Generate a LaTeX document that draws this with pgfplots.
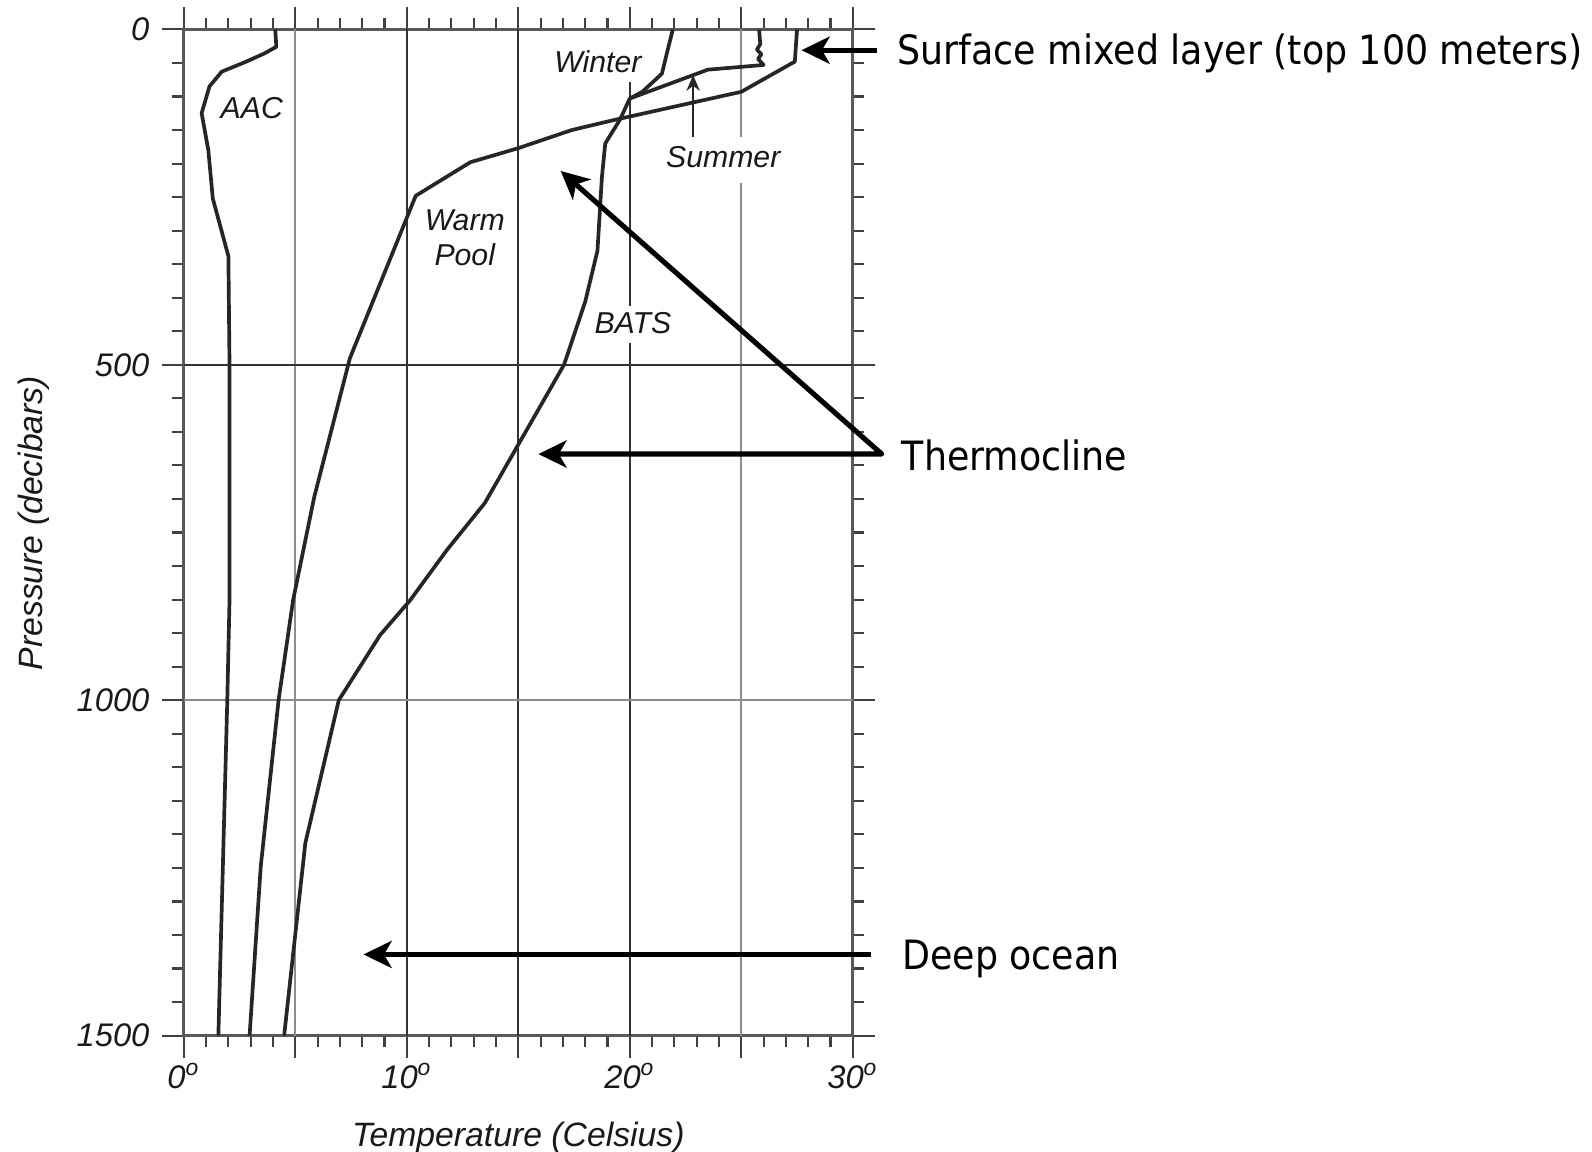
\documentclass[border=0pt]{standalone}
\usepackage{pgfplots}
\pgfplotsset{compat=1.18}
\usepackage{fontspec}
\setmainfont{Liberation Sans}
\newfontfamily\annotfont[FakeStretch=0.9]{DejaVu Sans}
\usetikzlibrary{arrows.meta}

\begin{document}
\begin{tikzpicture}
\begin{axis}[
  at={(1.838cm,-10.356cm)}, anchor=south west,
  scale only axis, width=6.69cm, height=10.062cm,
  xmin=0, xmax=30, ymin=0, ymax=1500, y dir=reverse,
  clip=false,
  axis line style={draw=black!65, line width=0.9pt},
  tick align=outside,
  major tick length=0.22cm, minor tick length=0.115cm,
  every tick/.style={draw=black!75, line width=0.6pt},
  xtick={0,5,...,30},
  xticklabels={0\textsuperscript{o},,10\textsuperscript{o},,20\textsuperscript{o},,30\textsuperscript{o}},
  minor x tick num=4,
  ytick={0,500,1000,1500}, yticklabels={0,500,1000,1500},
  minor y tick num=9,
  ticklabel style={font=\fontsize{9.3}{11}\selectfont\itshape, text=black!90},
  xticklabel style={yshift=2pt},
]
% grid lines
\draw[black!45, line width=0.6pt] (axis cs:5,0) -- (axis cs:5,1500);
\draw[black!80, line width=0.6pt] (axis cs:10,0) -- (axis cs:10,1500);
\draw[black!80, line width=0.6pt] (axis cs:15,0) -- (axis cs:15,1500);
\draw[black!80, line width=0.6pt] (axis cs:20,78) -- (axis cs:20,413);
\draw[black!80, line width=0.6pt] (axis cs:20,468) -- (axis cs:20,1500);
\draw[black!45, line width=0.6pt] (axis cs:25,0) -- (axis cs:25,160);
\draw[black!45, line width=0.6pt] (axis cs:25,229) -- (axis cs:25,1500);
\draw[black!80, line width=0.6pt] (axis cs:0,500) -- (axis cs:30,500);
\draw[black!45, line width=0.6pt] (axis cs:0,1000) -- (axis cs:30,1000);

% AAC
\addplot[black!85, line width=1.05pt, line join=round] coordinates {
(4.1,0) (4.15,26) (3.6,36) (2.8,48) (1.7,63) (1.15,85) (0.8,125) (1.1,180)
(1.3,252) (2.0,338) (2.05,500) (2.05,851) (1.95,1000) (1.55,1500)};
% Warm Pool
\addplot[black!85, line width=1.05pt, line join=round] coordinates {
(27.5,0) (27.4,48) (25.0,93) (19.3,135) (17.4,150) (15.0,177) (12.85,198)
(10.4,248) (7.45,490) (5.85,697) (4.9,851) (4.25,1000) (3.45,1248) (2.95,1500)};
% BATS winter
\addplot[black!85, line width=1.05pt, line join=round] coordinates {
(21.93,0) (21.66,36) (21.44,66) (21.15,75) (20.56,93) (20.0,103) (19.55,135)
(18.9,170) (18.75,220) (18.55,330) (18.0,406) (17.05,500) (13.5,706)
(11.8,776) (10.15,851) (8.8,903) (6.95,1000) (5.45,1213) (4.5,1500)};
% BATS summer
\addplot[black!85, line width=1.05pt, line join=round] coordinates {
(25.8,0) (25.85,22) (25.7,30) (25.9,37) (25.75,44) (26.0,53) (23.5,60) (20.0,103)};

% labels inside
\begin{scope}[every node/.style={font=\fontsize{8.6}{9.9}\selectfont\itshape, text=black!90, inner sep=0pt}]
\node at (axis cs:3.05,118) {AAC};
\node at (axis cs:18.57,48) {Winter};
\node at (axis cs:24.19,190) {Summer};
\node[align=center] at (axis cs:12.6,310) {Warm\\Pool};
\node at (axis cs:20.14,438) {BATS};
\end{scope}
\draw[black!85, line width=0.5pt, -{Stealth[length=4.5pt,width=3.8pt]}] (axis cs:22.84,160) -- (axis cs:22.84,68);

% annotation arrows
\draw[black, line width=1.45pt, -{Stealth[length=8pt,width=7.7pt,inset=2.2pt]}] (axis cs:31.1,31) -- (axis cs:27.7,31);
\draw[black, line width=1.45pt, line join=round, {Stealth[length=8pt,width=7.7pt,inset=2.2pt]}-{Stealth[length=8pt,width=7.7pt,inset=2.2pt]}] (axis cs:16.9,211) -- (axis cs:31.3,633) -- (axis cs:15.9,633);
\draw[black, line width=1.45pt, -{Stealth[length=8pt,width=7.7pt,inset=2.2pt]}] (axis cs:30.8,1379) -- (axis cs:8.06,1379);

\begin{scope}[every node/.style={font=\annotfont\fontsize{11.5}{13}\selectfont, inner sep=0pt, anchor=base west}]
\node at (axis cs:31.98,53) {Surface mixed layer (top 100 meters)};
\node at (axis cs:32.17,657) {Thermocline};
\node at (axis cs:32.19,1401) {Deep ocean};
\end{scope}

% axis labels
\node[font=\fontsize{9.6}{11}\selectfont\itshape, text=black!90] at (axis cs:15,1653) {Temperature (Celsius)};
\node[font=\fontsize{9.6}{11}\selectfont\itshape, text=black!90, rotate=90] at (axis cs:-6.72,736) {Pressure (decibars)};
\end{axis}
\pgfresetboundingbox
\path[use as bounding box] (0,0) rectangle (15.92cm,-11.52cm);
\end{tikzpicture}
\end{document}
